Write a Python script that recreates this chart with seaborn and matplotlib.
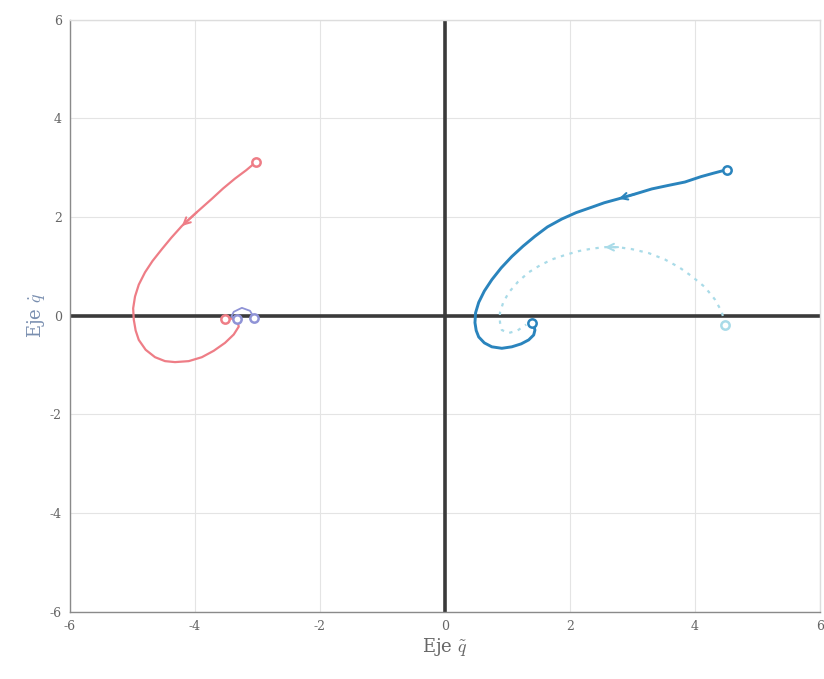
import matplotlib
matplotlib.use("Agg")
import matplotlib.pyplot as plt
import seaborn as sns
import pandas as pd

# Phase-plane trajectories (error vs. error rate)
red_q = [-3.02, -3.18, -3.36, -3.55, -3.73, -3.97, -4.21, -4.38, -4.53, -4.68,
         -4.80, -4.90, -4.96, -4.99, -4.98, -4.95, -4.90, -4.79, -4.64, -4.48,
         -4.32, -4.10, -3.89, -3.70, -3.52, -3.38, -3.30, -3.32, -3.40, -3.52]
red_dq = [3.12, 2.95, 2.78, 2.58, 2.37, 2.10, 1.82, 1.58, 1.35, 1.11,
          0.88, 0.63, 0.39, 0.15, -0.08, -0.30, -0.49, -0.69, -0.84, -0.92,
          -0.94, -0.92, -0.84, -0.71, -0.55, -0.38, -0.22, -0.12, -0.06, -0.06]

violet_q = [-3.05, -3.12, -3.25, -3.38, -3.42, -3.33]
violet_dq = [-0.05, 0.10, 0.16, 0.08, -0.02, -0.06]

blue_q = [4.51, 4.30, 4.10, 3.84, 3.57, 3.31, 3.05, 2.78, 2.55, 2.35, 2.10,
          1.87, 1.64, 1.44, 1.25, 1.07, 0.90, 0.75, 0.63, 0.54, 0.49, 0.48,
          0.50, 0.54, 0.63, 0.75, 0.91, 1.07, 1.22, 1.34, 1.42, 1.44, 1.42, 1.39]
blue_dq = [2.96, 2.89, 2.82, 2.71, 2.64, 2.57, 2.47, 2.37, 2.29, 2.20, 2.09,
           1.96, 1.80, 1.61, 1.41, 1.20, 0.97, 0.73, 0.50, 0.27, 0.06, -0.14,
           -0.30, -0.43, -0.55, -0.63, -0.66, -0.63, -0.57, -0.49, -0.39, -0.29,
           -0.20, -0.14]

light_q = [4.48, 4.43, 4.32, 4.16, 3.95, 3.75, 3.52, 3.26, 2.99, 2.77, 2.56,
           2.35, 2.14, 1.92, 1.71, 1.52, 1.34, 1.17, 1.02, 0.93, 0.88, 0.88,
           0.91, 1.02, 1.16, 1.30]
light_dq = [-0.18, 0.08, 0.33, 0.58, 0.80, 0.98, 1.14, 1.27, 1.35, 1.39, 1.39,
            1.36, 1.31, 1.23, 1.14, 1.02, 0.88, 0.69, 0.47, 0.26, 0.06, -0.13,
            -0.29, -0.35, -0.30, -0.18]

ticks = [-6, -4, -2, 0, 2, 4, 6]

sns.set_theme(style="whitegrid")
plt.rcParams["font.family"] = ["DejaVu Serif"]
plt.rcParams["mathtext.fontset"] = "cm"

fig = plt.figure(figsize=(8.24, 6.79), dpi=100)
ax = fig.add_axes([0.085, 0.099, 0.91, 0.872])

# coordinate axes through the origin
ax.axhline(0, color="#3a3a3a", lw=2.6, zorder=2)
ax.axvline(0, color="#3a3a3a", lw=2.6, zorder=2)

# (q, dq, colour, width, style, arrow index, draw end marker)
series = [
    (light_q, light_dq, "#a9dbe8", 1.6, (0, (1.5, 2.5)), 10, False),
    (red_q, red_dq, "#ee7d86", 1.6, "-", 6, True),
    (violet_q, violet_dq, "#8f93d6", 1.3, "-", None, True),
    (blue_q, blue_dq, "#2a84bd", 2.1, "-", 7, True),
]

for q, dq, color, lw, ls, arrow_idx, end_marker in series:
    df = pd.DataFrame({"q": q, "dq": dq})
    sns.lineplot(data=df, x="q", y="dq", sort=False, estimator=None,
                 color=color, lw=lw, linestyle=ls, ax=ax, zorder=3)
    # start and end markers
    ax.plot(q[0], dq[0], "o", mfc="white", mec=color, mew=1.8, ms=6, zorder=4)
    if end_marker:
        ax.plot(q[-1], dq[-1], "o", mfc="white", mec=color, mew=1.8, ms=6,
                zorder=4)
    # direction arrow along the path
    if arrow_idx is not None:
        ax.annotate("", xy=(q[arrow_idx], dq[arrow_idx]),
                    xytext=(q[arrow_idx - 1], dq[arrow_idx - 1]),
                    arrowprops=dict(arrowstyle="->", color=color, lw=1.5,
                                    mutation_scale=12, shrinkA=0, shrinkB=0),
                    zorder=4)

ax.set_xlim(-6, 6)
ax.set_ylim(-6, 6)
ax.set_xticks(ticks)
ax.set_yticks(ticks)
ax.set_xticklabels([str(t) for t in ticks])
ax.set_yticklabels([str(t) for t in ticks])
ax.grid(True, color="#e4e4e4", lw=0.8)
ax.tick_params(axis="both", labelsize=9, colors="#666666", length=0, pad=6)
for side, sp in ax.spines.items():
    sp.set_visible(True)
    sp.set_color("#8a8a8a" if side in ("left", "bottom") else "#dddddd")
    sp.set_linewidth(1.0)

ax.set_xlabel(r"Eje $\tilde{q}$", fontsize=13, color="#666666", labelpad=2)
ax.set_ylabel(r"Eje $\dot{q}$", fontsize=13, color="#7a8fb0", labelpad=2)

fig.savefig("out.png", dpi=100)
